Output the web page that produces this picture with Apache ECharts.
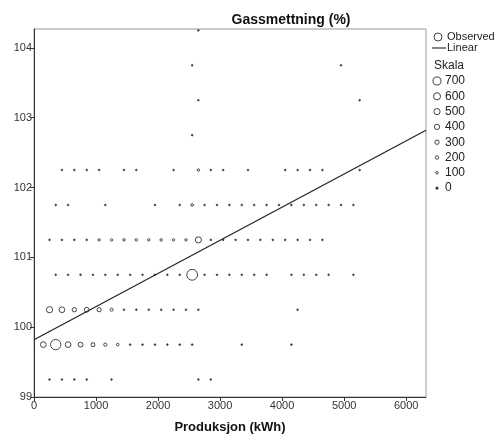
<!DOCTYPE html>
<html>
<head>
<meta charset="utf-8">
<script src="https://cdn.jsdelivr.net/npm/echarts@6/dist/echarts.min.js"></script>
<style>
  html, body { margin: 0; padding: 0; background: #fff; }
  #chart { width: 499px; height: 439px; }
</style>
</head>
<body>
<div id="chart"></div>
<script>
// gas saturation levels (one row of points per level)
const yLevels = [99.25, 99.75, 100.25, 100.75, 101.25, 101.75, 102.25, 102.75, 103.25, 103.75, 104.25];

// production (kWh) for each row
const xByRow = [
    [250, 450, 650, 850, 1250, 2650, 2850],
    [150, 350, 550, 750, 950, 1150, 1350, 1550, 1750, 1950, 2150, 2350, 2550, 3350, 4150],
    [250, 450, 650, 850, 1050, 1250, 1450, 1650, 1850, 2050, 2250, 2450, 2650, 4250],
    [350, 550, 750, 950, 1150, 1350, 1550, 1750, 1950, 2150, 2350, 2550, 2750, 2950, 3150, 3350, 3550, 3750, 4150, 4350, 4550, 4750, 5150],
    [250, 450, 650, 850, 1050, 1250, 1450, 1650, 1850, 2050, 2250, 2450, 2650, 2850, 3050, 3250, 3450, 3650, 3850, 4050, 4250, 4450, 4650],
    [350, 550, 1150, 1950, 2350, 2550, 2750, 2950, 3150, 3350, 3550, 3750, 3950, 4150, 4350, 4550, 4750, 4950, 5150],
    [450, 650, 850, 1050, 1450, 1650, 2250, 2650, 2850, 3050, 3450, 4050, 4250, 4450, 4650, 5250],
    [2550],
    [2650, 5250],
    [2550, 4950],
    [2650]
];

// number of observations behind each point (bubble size)
const countByRow = [
    [20, 20, 20, 20, 20, 20, 20],
    [450, 950, 450, 350, 250, 180, 110, 40, 40, 40, 40, 40, 40, 20, 20],
    [500, 450, 300, 350, 280, 160, 60, 50, 50, 50, 50, 50, 50, 20],
    [30, 30, 40, 40, 50, 60, 60, 60, 60, 60, 60, 1000, 40, 40, 40, 30, 30, 30, 20, 20, 20, 20, 20],
    [30, 40, 40, 50, 80, 90, 90, 90, 90, 90, 80, 80, 500, 40, 40, 30, 30, 30, 30, 30, 30, 30, 30],
    [20, 20, 20, 20, 30, 110, 40, 40, 30, 30, 30, 30, 20, 20, 20, 20, 20, 20, 20],
    [20, 20, 20, 20, 20, 20, 20, 90, 30, 30, 20, 20, 20, 20, 20, 20],
    [20],
    [20, 20],
    [20, 20],
    [20]
];

// fitted linear line end points
const fitX = [0, 6320];
const fitY = [99.82, 102.82];

const xTicks = [0, 1000, 2000, 3000, 4000, 5000, 6000];
const yTicks = [99, 100, 101, 102, 103, 104];
const skalaValues = [700, 600, 500, 400, 300, 200, 100, 0];

const FONT = 'Liberation Sans, Arial, sans-serif';
const DOT_LIMIT = 75;
// small counts are drawn as filled dots, the rest as hollow rings
const bubbleSize = c => c < DOT_LIMIT ? 1.6 : 1.6 + c * 0.0092;

const observed = [];
yLevels.forEach((y, i) => {
    xByRow[i].forEach((x, j) => {
        observed.push([x, y, countByRow[i][j]]);
    });
});

const chart = echarts.init(document.getElementById('chart'));

// legend on the right side
const legendGraphics = [
    { type: 'circle', shape: { cx: 438, cy: 37, r: 4 }, style: { fill: 'none', stroke: '#444', lineWidth: 1 } },
    { type: 'text', x: 447, y: 37, style: { text: 'Observed', font: '11px ' + FONT, fill: '#222', verticalAlign: 'middle' } },
    { type: 'line', shape: { x1: 432, y1: 48, x2: 446, y2: 48 }, style: { stroke: '#333', lineWidth: 1.2 } },
    { type: 'text', x: 447, y: 48, style: { text: 'Linear', font: '11px ' + FONT, fill: '#222', verticalAlign: 'middle' } },
    { type: 'text', x: 434, y: 66, style: { text: 'Skala', font: '12px ' + FONT, fill: '#222', verticalAlign: 'middle' } }
];
skalaValues.forEach((v, i) => {
    const cy = 81 + i * 15.3;
    legendGraphics.push({
        type: 'circle',
        shape: { cx: 437, cy: cy, r: v === 0 ? 1.2 : (1.6 + v * 0.0092) / 2 },
        style: { fill: v === 0 ? '#333' : 'none', stroke: '#444', lineWidth: 1 }
    });
    legendGraphics.push({
        type: 'text', x: 445, y: cy,
        style: { text: String(v), font: '12px ' + FONT, fill: '#222', verticalAlign: 'middle' }
    });
});

const option = {
    backgroundColor: '#fff',
    animation: false,
    title: {
        text: 'Gassmettning (%)',
        left: 286,
        top: 8,
        textAlign: 'center',
        textStyle: { fontFamily: FONT, fontSize: 14, fontWeight: 'bold', color: '#111' }
    },
    grid: {
        left: 34,
        right: 73,
        top: 29,
        bottom: 42,
        show: true,
        borderColor: '#999',
        borderWidth: 1
    },
    xAxis: {
        type: 'value',
        min: 0,
        max: 6320,
        name: 'Produksjon (kWh)',
        nameLocation: 'middle',
        nameGap: 24,
        nameTextStyle: { fontFamily: FONT, fontSize: 13, fontWeight: 'bold', color: '#111' },
        splitLine: { show: false },
        axisLine: { lineStyle: { color: '#333', width: 1 } },
        axisTick: { customValues: xTicks, length: 4, lineStyle: { color: '#333' } },
        axisLabel: {
            customValues: xTicks,
            formatter: v => String(v),
            fontFamily: FONT, fontSize: 11, color: '#333', margin: 3
        }
    },
    yAxis: {
        type: 'value',
        min: 99,
        max: 104.27,
        splitLine: { show: false },
        axisLine: { lineStyle: { color: '#333', width: 1 } },
        axisTick: { customValues: yTicks, length: 4, lineStyle: { color: '#333' } },
        axisLabel: {
            customValues: yTicks,
            formatter: v => String(v),
            fontFamily: FONT, fontSize: 11, color: '#333', margin: 2
        }
    },
    series: [
        {
            name: 'Observed',
            type: 'scatter',
            data: observed,
            symbol: 'circle',
            symbolSize: d => bubbleSize(d[2]),
            itemStyle: {
                color: p => p.data[2] < DOT_LIMIT ? '#333' : 'rgba(0,0,0,0)',
                borderColor: '#444',
                borderWidth: 1,
                opacity: 1
            },
            z: 3
        },
        {
            name: 'Linear',
            type: 'line',
            data: fitX.map((x, i) => [x, fitY[i]]),
            showSymbol: false,
            lineStyle: { color: '#222', width: 1.2 },
            z: 4
        }
    ],
    graphic: legendGraphics
};

chart.setOption(option);
</script>
</body>
</html>
